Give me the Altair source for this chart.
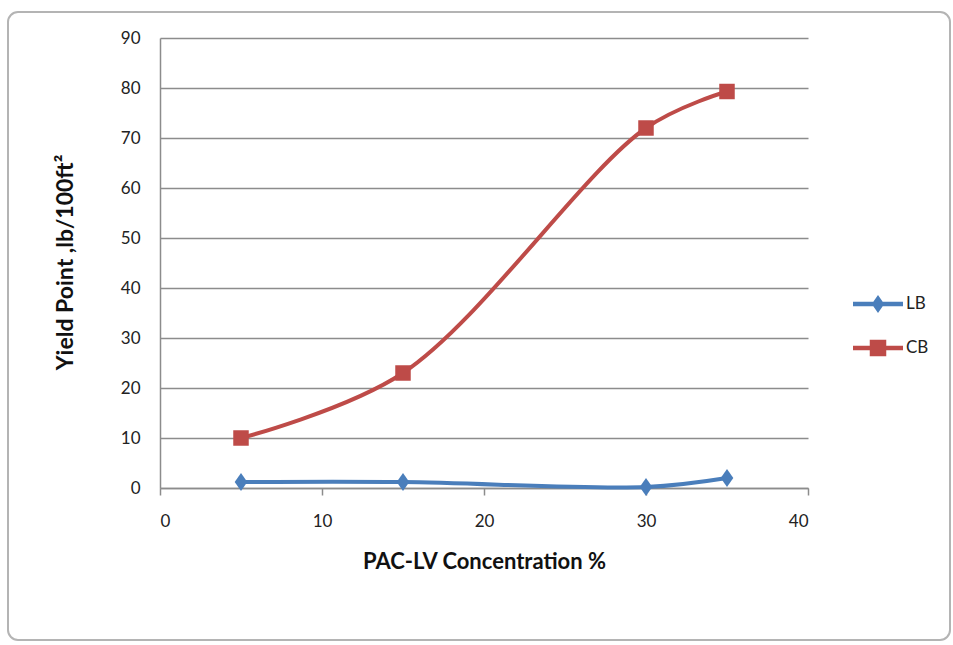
import altair as alt
import pandas as pd

# PAC-LV concentration (%) and yield point (lb/100ft²) per mud type
concentration = [5, 15, 30, 35]
lb_yield = [1.2, 1.2, 0.2, 2.0]
cb_yield = [10, 23, 72, 79.3]
series_names = ["LB", "CB"]
series_colors = ["#4a7ebb", "#be4b48"]
x_ticks = [0, 10, 20, 30, 40]
y_ticks = [0, 10, 20, 30, 40, 50, 60, 70, 80, 90]

rows = []
for name, values in zip(series_names, [lb_yield, cb_yield]):
    for c, v in zip(concentration, values):
        rows.append({"conc": c, "yp": v, "series": name})
df = pd.DataFrame(rows)

FONT = "Lato"
GRID = "#8c8c8c"

# marker paths: tall diamond for LB, square for CB
diamond = "M0,-1L0.7,0L0,1L-0.7,0Z"
# legend keys: line segment with the series marker on it
legend_lb = "M-1,-0.09H1V0.09H-1Z M0,-0.36L0.25,0L0,0.36L-0.25,0Z"
legend_cb = "M-1,-0.09H1V0.09H-1Z M-0.33,-0.33H0.33V0.33H-0.33Z"

x_enc = alt.X(
    "conc:Q",
    scale=alt.Scale(domain=[0, 40], nice=False),
    axis=alt.Axis(
        values=x_ticks,
        title="PAC-LV Concentration %",
        grid=False,
        tickSize=7,
        tickColor=GRID,
        tickWidth=1.5,
        domainColor=GRID,
        domainWidth=1.5,
        labelPadding=18,
        titleY=80,
        titleBaseline="alphabetic",
        titleFontSize=22,
    ),
)
y_enc = alt.Y(
    "yp:Q",
    scale=alt.Scale(domain=[0, 90], nice=False),
    axis=alt.Axis(
        values=y_ticks,
        title="Yield Point ,lb/100ft²",
        grid=True,
        gridColor=GRID,
        gridWidth=1.5,
        ticks=False,
        domainColor=GRID,
        domainWidth=1.5,
        labelPadding=20,
        titleAngle=270,
        titleX=-88,
        titleY=224,
        titleAlign="center",
        titleBaseline="alphabetic",
        titleFontSize=23,
    ),
)

# rounded outline around the whole chart
frame = (
    alt.Chart(pd.DataFrame({"k": [0]}))
    .mark_rect(fillOpacity=0, stroke="#b4b4b4", strokeWidth=2, cornerRadius=10)
    .encode(
        x=alt.value(-152), x2=alt.value(790), y=alt.value(-26), y2=alt.value(602)
    )
)

lines = (
    alt.Chart(df)
    .mark_line(interpolate="catmull-rom", strokeWidth=4)
    .encode(
        x=x_enc,
        y=y_enc,
        color=alt.Color(
            "series:N",
            scale=alt.Scale(domain=series_names, range=series_colors),
            legend=None,
        ),
    )
)

points = (
    alt.Chart(df)
    .mark_point(filled=True, opacity=1, strokeWidth=0)
    .encode(
        x="conc:Q",
        y="yp:Q",
        fill=alt.Fill(
            "series:N",
            scale=alt.Scale(domain=series_names, range=series_colors),
            legend=None,
        ),
        shape=alt.Shape(
            "series:N",
            scale=alt.Scale(domain=series_names, range=[diamond, "square"]),
            legend=None,
        ),
        size=alt.Size(
            "series:N",
            scale=alt.Scale(domain=series_names, range=[324, 240]),
            legend=None,
        ),
    )
)

legend_props = dict(
    title=None,
    orient="none",
    legendX=693,
    legendY=241,
    symbolSize=2500,
    symbolOpacity=1,
    symbolStrokeWidth=0,
    labelFont=FONT,
    labelFontSize=17,
    labelColor="#222222",
    labelOffset=3,
    rowPadding=10,
    padding=0,
)

# invisible layer whose only job is the series key
key = (
    alt.Chart(df)
    .mark_point(filled=True, strokeWidth=0)
    .encode(
        x="conc:Q",
        y="yp:Q",
        opacity=alt.value(0),
        fill=alt.Fill(
            "series:N",
            scale=alt.Scale(domain=series_names, range=series_colors),
            legend=alt.Legend(**legend_props),
        ),
        shape=alt.Shape(
            "series:N",
            scale=alt.Scale(domain=series_names, range=[legend_lb, legend_cb]),
            legend=alt.Legend(**legend_props),
        ),
    )
)

chart = (
    alt.layer(frame, lines, points, key)
    .resolve_scale(fill="independent", shape="independent", size="independent")
    .properties(
        width=648,
        height=450,
        autosize=alt.AutoSizeParams(type="none"),
        padding={"left": 160, "top": 38, "right": 145, "bottom": 157},
        background="white",
    )
    .configure_view(stroke=None)
    .configure_axis(
        labelFont=FONT,
        labelFontSize=17,
        labelColor="#222222",
        titleFont=FONT,
        titleFontWeight="bold",
        titleColor="#111111",
    )
)

chart.save("out.html", embed_options={"renderer": "svg", "actions": False})
